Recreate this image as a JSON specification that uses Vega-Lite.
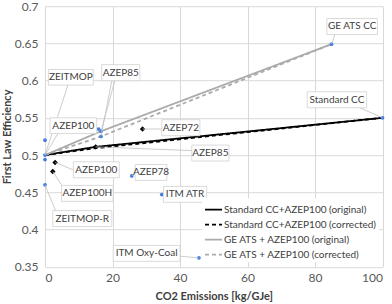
{
  "$schema": "https://vega.github.io/schema/vega-lite/v6.json",
  "width": 337.5,
  "height": 260.5,
  "autosize": {"type": "none"},
  "padding": {"left": 45, "top": 6.2, "right": 9.5, "bottom": 37.3},
  "background": "white",
  "config": {
    "font": "Lato",
    "view": {"stroke": null},
    "axis": {"grid": true, "gridColor": "#d9d9d9", "gridWidth": 1, "domain": false, "ticks": false, "labelOverlap": false,
             "labelColor": "#595959", "labelFontSize": 12, "titleColor": "#404040", "titleFontSize": 11, "titleFontWeight": "bold", "labelFont": "Lato", "titleFont": "Lato"}
  },
  "datasets": {
    "lines": [
      {"series": "Standard CC+AZEP100 (original)", "o": 1, "x": 0, "y": 0.5},
      {"series": "Standard CC+AZEP100 (original)", "o": 2, "x": 15, "y": 0.511},
      {"series": "Standard CC+AZEP100 (original)", "o": 3, "x": 100, "y": 0.55},
      {"series": "Standard CC+AZEP100 (corrected)", "o": 1, "x": 0, "y": 0.5},
      {"series": "Standard CC+AZEP100 (corrected)", "o": 2, "x": 14.5, "y": 0.509},
      {"series": "Standard CC+AZEP100 (corrected)", "o": 3, "x": 100, "y": 0.55},
      {"series": "GE ATS + AZEP100 (original)", "o": 1, "x": 0, "y": 0.5},
      {"series": "GE ATS + AZEP100 (original)", "o": 2, "x": 16.6, "y": 0.532},
      {"series": "GE ATS + AZEP100 (original)", "o": 3, "x": 84.9, "y": 0.649},
      {"series": "GE ATS + AZEP100 (corrected)", "o": 1, "x": 0, "y": 0.5},
      {"series": "GE ATS + AZEP100 (corrected)", "o": 2, "x": 16.6, "y": 0.525},
      {"series": "GE ATS + AZEP100 (corrected)", "o": 3, "x": 84.9, "y": 0.649}
    ],
    "blue": [
      {"x": 0, "y": 0.52}, {"x": 0, "y": 0.5}, {"x": 0, "y": 0.494}, {"x": 0, "y": 0.46},
      {"x": 15.9, "y": 0.535}, {"x": 16.6, "y": 0.532}, {"x": 16.6, "y": 0.525},
      {"x": 25.7, "y": 0.472}, {"x": 34.6, "y": 0.447}, {"x": 45.6, "y": 0.362},
      {"x": 84.9, "y": 0.649}, {"x": 100, "y": 0.55}
    ],
    "black": [
      {"x": 3, "y": 0.49}, {"x": 2.3, "y": 0.478}, {"x": 28.9, "y": 0.535}, {"x": 15, "y": 0.511}
    ],
    "leaders": [
      {"x": 85.9, "y": 0.662, "x2": 84.9, "y2": 0.649},
      {"x": 93.3, "y": 0.5635, "x2": 100, "y2": 0.55},
      {"x": 6.8, "y": 0.594, "x2": 0, "y2": 0.5},
      {"x": 20.7, "y": 0.6, "x2": 16.6, "y2": 0.532},
      {"x": 19.8, "y": 0.6, "x2": 16.6, "y2": 0.525},
      {"x": 3.85, "y": 0.529, "x2": 0, "y2": 0.5},
      {"x": 34.6, "y": 0.535, "x2": 28.9, "y2": 0.535},
      {"x": 43.5, "y": 0.506, "x2": 15, "y2": 0.511},
      {"x": 8.4, "y": 0.48, "x2": 3, "y2": 0.49},
      {"x": 26.7, "y": 0.4766, "x2": 25.7, "y2": 0.472},
      {"x": 5.6, "y": 0.455, "x2": 2.3, "y2": 0.478},
      {"x": 3.3, "y": 0.4235, "x2": 0, "y2": 0.46},
      {"x": 40, "y": 0.364, "x2": 45.6, "y2": 0.362}
    ],
    "labels": [
      {"label": "GE ATS CC", "x1": 83.5, "x2": 98.5, "y1": 0.662, "y2": 0.6835, "tx": 91, "ty": 0.6728},
      {"label": "Standard CC", "x1": 77.7, "x2": 95.3, "y1": 0.5635, "y2": 0.585, "tx": 86.5, "ty": 0.5742},
      {"label": "ZEITMOP", "x1": 1.0, "x2": 14.3, "y1": 0.594, "y2": 0.615, "tx": 7.65, "ty": 0.6046},
      {"label": "AZEP85", "x1": 16.8, "x2": 28.1, "y1": 0.6, "y2": 0.6215, "tx": 22.45, "ty": 0.6107},
      {"label": "AZEP100", "x1": 1.5, "x2": 15.3, "y1": 0.529, "y2": 0.55, "tx": 8.4, "ty": 0.5395},
      {"label": "AZEP72", "x1": 34.6, "x2": 45.9, "y1": 0.526, "y2": 0.5475, "tx": 40.25, "ty": 0.5368},
      {"label": "AZEP85", "x1": 43.5, "x2": 54.5, "y1": 0.492, "y2": 0.5134, "tx": 49, "ty": 0.5027},
      {"label": "AZEP100", "x1": 8.4, "x2": 22.0, "y1": 0.4695, "y2": 0.491, "tx": 15.2, "ty": 0.4802},
      {"label": "AZEP78", "x1": 26.7, "x2": 36.1, "y1": 0.466, "y2": 0.4873, "tx": 31.4, "ty": 0.4766},
      {"label": "AZEP100H", "x1": 4.9, "x2": 20.2, "y1": 0.4378, "y2": 0.4592, "tx": 12.55, "ty": 0.4485},
      {"label": "ITM ATR", "x1": 35.1, "x2": 47.9, "y1": 0.4365, "y2": 0.4579, "tx": 41.5, "ty": 0.4472},
      {"label": "ZEITMOP-R", "x1": 2.3, "x2": 19.8, "y1": 0.404, "y2": 0.4254, "tx": 11.05, "ty": 0.4147},
      {"label": "ITM Oxy-Coal", "x1": 20.2, "x2": 40.0, "y1": 0.3572, "y2": 0.3786, "tx": 30.1, "ty": 0.3679}
    ]
  },
  "layer": [
    {
      "data": {"name": "lines"},
      "mark": {"type": "line"},
      "encoding": {
        "x": {"field": "x", "type": "quantitative", "scale": {"domain": [0, 100], "nice": false},
              "axis": {"values": [0, 20, 40, 60, 80, 100], "tickCount": 10, "title": "CO2 Emissions [kg/GJe]", "labelPadding": 6, "titlePadding": 7, "labelOverlap": false}},
        "y": {"field": "y", "type": "quantitative", "scale": {"domain": [0.35, 0.7], "nice": false, "zero": false},
              "axis": {"values": [0.35, 0.4, 0.45, 0.5, 0.55, 0.6, 0.65, 0.7], "tickCount": 12, "format": ".2~f", "title": "First Law Efficiency", "labelPadding": 7, "titlePadding": 2, "labelOverlap": false}},
        "order": {"field": "o", "type": "quantitative"},
        "color": {"field": "series", "type": "nominal",
                  "scale": {"domain": ["Standard CC+AZEP100 (original)", "Standard CC+AZEP100 (corrected)", "GE ATS + AZEP100 (original)", "GE ATS + AZEP100 (corrected)"],
                            "range": ["#000000", "#000000", "#ababab", "#ababab"]},
                  "legend": {"title": null, "orient": "none", "legendX": 157, "legendY": 192, "symbolType": "stroke", "symbolSize": 289, "symbolStrokeWidth": 1.5,
                             "labelFontSize": 10, "labelColor": "#404040", "labelOffset": 1, "rowPadding": 0, "fillColor": "white", "padding": 2, "labelLimit": 300}},
        "strokeDash": {"field": "series", "type": "nominal",
                       "scale": {"domain": ["Standard CC+AZEP100 (original)", "Standard CC+AZEP100 (corrected)", "GE ATS + AZEP100 (original)", "GE ATS + AZEP100 (corrected)"],
                                 "range": [[1, 0], [4, 3], [1, 0], [4, 3]]}},
        "strokeWidth": {"field": "series", "type": "nominal",
                        "scale": {"domain": ["Standard CC+AZEP100 (original)", "Standard CC+AZEP100 (corrected)", "GE ATS + AZEP100 (original)", "GE ATS + AZEP100 (corrected)"],
                                  "range": [1.8, 1.8, 1.3, 1.3]}, "legend": null}
      }
    },
    {
      "data": {"name": "blue"},
      "mark": {"type": "point", "filled": true, "shape": "circle", "size": 14, "color": "#3f7ee0", "opacity": 1},
      "encoding": {"x": {"field": "x", "type": "quantitative"}, "y": {"field": "y", "type": "quantitative"}}
    },
    {
      "data": {"name": "black"},
      "mark": {"type": "point", "filled": true, "shape": "diamond", "size": 30, "color": "#000000", "opacity": 1},
      "encoding": {"x": {"field": "x", "type": "quantitative"}, "y": {"field": "y", "type": "quantitative"}}
    },
    {
      "data": {"name": "leaders"},
      "mark": {"type": "rule", "color": "#bfbfbf", "strokeWidth": 0.8},
      "encoding": {"x": {"field": "x", "type": "quantitative"}, "y": {"field": "y", "type": "quantitative"},
                   "x2": {"field": "x2"}, "y2": {"field": "y2"}}
    },
    {
      "data": {"name": "labels"},
      "mark": {"type": "rect", "fill": "white", "stroke": "#d0d0d0", "strokeWidth": 0.8},
      "encoding": {"x": {"field": "x1", "type": "quantitative"}, "x2": {"field": "x2"},
                   "y": {"field": "y1", "type": "quantitative"}, "y2": {"field": "y2"}}
    },
    {
      "data": {"name": "labels"},
      "mark": {"type": "text", "fontSize": 10, "color": "#404040", "align": "center", "baseline": "middle", "font": "Lato"},
      "encoding": {"x": {"field": "tx", "type": "quantitative"}, "y": {"field": "ty", "type": "quantitative"}, "text": {"field": "label"}}
    }
  ]
}
